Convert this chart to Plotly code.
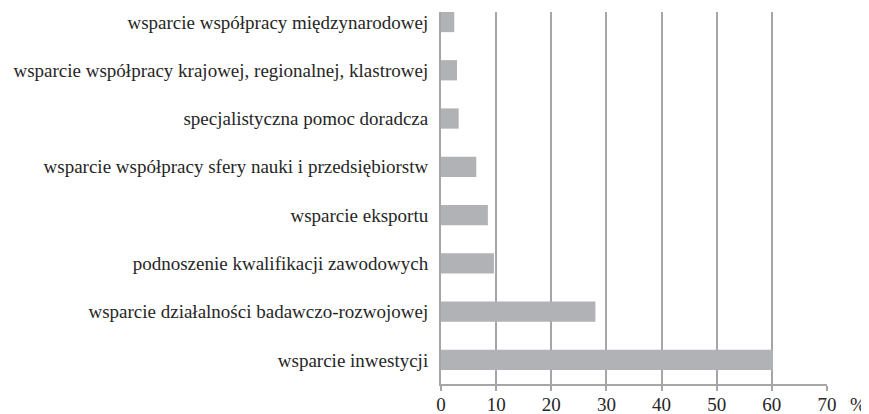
import plotly.graph_objects as go

categories = [
    "wsparcie inwestycji",
    "wsparcie działalności badawczo-rozwojowej",
    "podnoszenie kwalifikacji zawodowych",
    "wsparcie eksportu",
    "wsparcie współpracy sfery nauki i przedsiębiorstw",
    "specjalistyczna pomoc doradcza",
    "wsparcie współpracy krajowej, regionalnej, klastrowej",
    "wsparcie współpracy międzynarodowej",
]
values = [60.2, 28.0, 9.6, 8.5, 6.4, 3.2, 2.9, 2.4]
x_ticks = [0, 10, 20, 30, 40, 50, 60, 70]
unit_label = "%"

FONT = "Liberation Serif"
FSIZE = 19
TEXT = "#262626"
GRID = "#a6a6a6"

fig = go.Figure(
    go.Bar(
        x=values,
        y=categories,
        orientation="h",
        marker=dict(color="#b1b2b5", line=dict(width=0)),
        width=0.42,
        hoverinfo="skip",
    )
)

# page body has an 8px margin, so the figure is 8px smaller on each axis
fig.update_layout(
    width=861,
    height=406,
    margin=dict(l=433, r=42, t=4, b=30, pad=0, autoexpand=False),
    paper_bgcolor="white",
    plot_bgcolor="white",
    showlegend=False,
    font=dict(family=FONT, size=FSIZE, color=TEXT),
    xaxis=dict(
        range=[0, 70],
        tickvals=x_ticks,
        ticktext=[str(v) for v in x_ticks],
        showgrid=True,
        gridcolor=GRID,
        gridwidth=2,
        zeroline=False,
        showline=True,
        linecolor=GRID,
        linewidth=2,
        ticks="outside",
        ticklen=5,
        tickwidth=2,
        tickcolor=GRID,
        ticklabelstandoff=-3,
        tickfont=dict(family=FONT, size=FSIZE, color=TEXT),
        automargin=False,
        fixedrange=True,
    ),
    yaxis=dict(
        type="category",
        categoryorder="array",
        categoryarray=categories,
        range=[-0.5, 7.207],
        showgrid=False,
        zeroline=False,
        showline=True,
        linecolor=GRID,
        linewidth=2,
        ticks="",
        ticklabelstandoff=7,
        tickfont=dict(family=FONT, size=FSIZE, color=TEXT),
        automargin=False,
        fixedrange=True,
    ),
    annotations=[
        dict(
            text=unit_label,
            xref="x",
            yref="paper",
            x=70,
            y=0,
            xshift=31,
            yshift=-20,
            showarrow=False,
            xanchor="center",
            yanchor="middle",
            font=dict(family=FONT, size=FSIZE, color=TEXT),
        )
    ],
)

fig.write_html("out.html")
